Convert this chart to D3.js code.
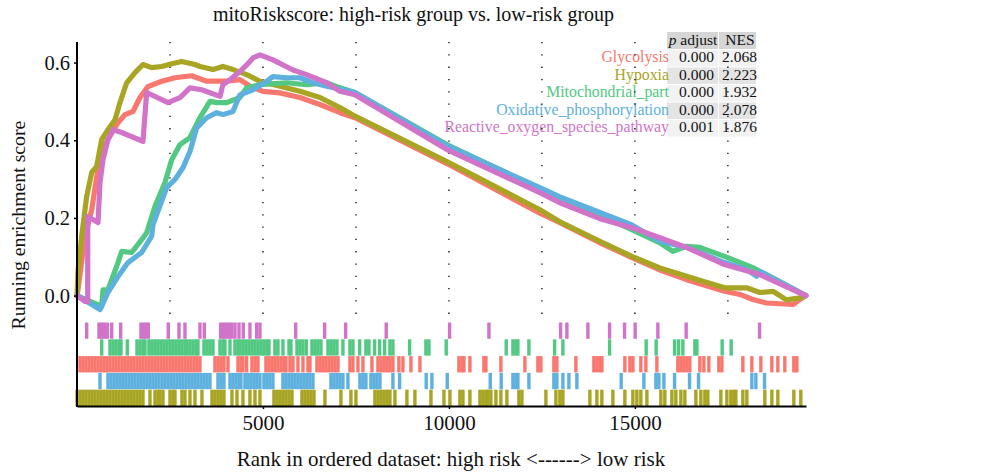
<!DOCTYPE html>
<html>
<head>
<meta charset="utf-8">
<script src="https://cdn.jsdelivr.net/npm/d3@7"></script>
<style>
  html, body { margin: 0; padding: 0; background: #ffffff; }
  svg { display: block; font-family: "Liberation Serif", "Times New Roman", serif; }
</style>
</head>
<body>
<svg id="chart" width="996" height="473"></svg>
<script>
// ---------------- data ----------------
const categories = ["Glycolysis", "Hypoxia", "Mitochondrial_part", "Oxidative_phosphorylation", "Reactive_oxygen_species_pathway"];
const pAdjust = ["0.000", "0.000", "0.000", "0.000", "0.001"];
const nesValues = ["2.068", "2.223", "1.932", "2.078", "1.876"];
const rugOrder = ["Reactive_oxygen_species_pathway", "Mitochondrial_part", "Glycolysis", "Oxidative_phosphorylation", "Hypoxia"];
const yTicks = [0.0, 0.2, 0.4, 0.6];
const xTicks = [5000, 10000, 15000];
const gridTicks = [2500, 5000, 7500, 10000, 12500, 15000, 17500];
const rankMax = 19600;

// running enrichment score: [rank, ES]
const esGlycolysis = [[0,0],[27,0.015],[215,0.152],[395,0.221],[530,0.306],[664,0.376],[833,0.402],[1102,0.445],[1290,0.466],[1505,0.474],[1693,0.510],[1908,0.538],[2277,0.552],[2634,0.561],[3083,0.566],[3486,0.552],[4024,0.552],[4381,0.556],[4650,0.539],[5000,0.526],[5457,0.522],[5994,0.510],[6532,0.492],[7070,0.471],[7473,0.458],[9946,0.340],[12445,0.212],[12983,0.188],[14058,0.136],[14918,0.098],[15671,0.066],[16389,0.041],[17410,0.011],[17823,0.003],[18171,-0.010],[18539,-0.019],[19246,-0.023],[19434,-0.010],[19596,0]];
const esHypoxia = [[0,0],[27,0.062],[126,0.153],[261,0.256],[395,0.317],[530,0.333],[664,0.402],[833,0.427],[1021,0.453],[1156,0.497],[1336,0.548],[1559,0.574],[1774,0.595],[2008,0.587],[2277,0.590],[2546,0.597],[2814,0.603],[3172,0.595],[3306,0.590],[3656,0.582],[3924,0.590],[4193,0.582],[4562,0.569],[4919,0.552],[5457,0.539],[5994,0.526],[6532,0.510],[7070,0.484],[7473,0.462],[9946,0.345],[12445,0.221],[12983,0.190],[14058,0.140],[14918,0.101],[15671,0.071],[16389,0.050],[16827,0.037],[17410,0.020],[18001,0.020],[18359,0.008],[18709,0.011],[19077,-0.011],[19434,-0.006],[19596,0]];
const esMitochondrial = [[0,0],[664,-0.028],[699,0.015],[833,0.015],[1102,0.085],[1202,0.114],[1470,0.111],[1739,0.144],[1873,0.162],[2097,0.230],[2365,0.291],[2546,0.350],[2769,0.389],[3037,0.407],[3306,0.458],[3575,0.500],[3755,0.497],[4024,0.497],[4381,0.510],[4562,0.535],[4919,0.543],[5637,0.548],[6174,0.543],[6712,0.548],[7070,0.535],[7473,0.523],[9946,0.389],[12445,0.275],[12983,0.252],[14918,0.170],[15671,0.136],[16020,0.114],[16389,0.127],[16746,0.124],[17410,0.101],[18171,0.072],[18539,0.054],[19596,0]];
const esOxidative = [[0,0],[618,-0.036],[833,0.008],[1102,0.049],[1371,0.085],[1739,0.111],[2008,0.153],[2043,0.183],[2411,0.278],[2634,0.299],[2849,0.329],[3037,0.371],[3218,0.432],[3486,0.458],[3755,0.471],[3924,0.466],[4193,0.474],[4381,0.517],[4731,0.530],[5099,0.552],[5268,0.564],[5637,0.561],[5994,0.561],[6344,0.548],[6712,0.539],[7473,0.523],[9946,0.386],[12445,0.278],[12983,0.254],[14058,0.214],[14918,0.182],[15671,0.140],[16389,0.124],[17410,0.085],[18001,0.067],[18270,0.050],[18359,0.062],[19596,0]];
const esReactive = [[0,0],[215,-0.015],[288,-0.015],[289,0.204],[565,0.188],[618,0.291],[699,0.350],[833,0.402],[968,0.427],[1202,0.420],[1774,0.397],[1873,0.523],[2446,0.497],[2769,0.510],[3037,0.535],[3352,0.530],[3844,0.513],[3924,0.543],[4113,0.556],[4381,0.577],[4562,0.594],[4731,0.612],[4919,0.620],[5268,0.607],[5806,0.581],[6174,0.569],[6712,0.548],[7070,0.526],[7473,0.517],[9946,0.376],[12445,0.265],[12983,0.239],[14058,0.198],[14918,0.175],[15671,0.149],[16389,0.124],[17410,0.080],[18359,0.054],[19596,0]];

// gene hit positions (ranks)
const hitsGlycolysis = [81,161,242,323,403,484,564,645,726,806,887,968,1048,1129,1210,1290,1371,1452,1532,1613,1693,1774,1855,1935,2016,2097,2177,2258,2339,2419,2500,2580,2661,2742,2822,2903,2984,3064,3145,3226,3306,3709,3790,3871,3951,4059,4328,4408,4462,4561,4704,4785,4865,5080,5161,5242,5322,5403,5484,5564,5618,5725,5806,5940,6075,6209,6263,6451,6532,6612,6693,6774,6854,6935,7016,7338,7419,7553,7688,7930,8091,8172,8252,8333,8413,8494,8655,8763,8978,9220,10268,10349,10403,10564,10940,10994,11397,12042,12392,12472,12822,12902,13413,13897,13978,14058,14112,14730,14865,14945,15160,15295,15590,16155,16236,16316,16397,16477,16746,16854,16988,17257,17338,17902,18144,18386,18682,18843,19031,19273,19354];
const hitsHypoxia = [1,81,161,242,323,403,484,564,645,726,806,887,968,1048,1129,1210,1290,1371,1452,1532,1613,1693,1774,1962,2097,2177,2231,2312,2500,2580,2634,2822,2903,3037,3172,3360,3629,3709,3790,3871,3951,4166,4301,4462,4650,4785,4919,5295,5376,5457,5537,5618,5699,5779,6048,6129,6209,6290,6371,6666,7096,7365,7500,8010,8091,8172,8252,8333,8413,8548,8870,9085,9516,9865,10026,10295,10376,10564,10833,10913,10994,11048,11128,11263,11397,11558,11881,11962,12607,12876,12983,13064,13789,13978,14112,14408,14730,14945,15053,15160,15322,15698,15805,15994,16101,16236,16343,16639,16773,16881,16961,17311,17472,17580,17660,17714,17902,18010,18493,18682,18843,19273,19461];
const hitsMitochondrial = [664,887,968,1048,1129,1183,1352,1613,1693,1774,1828,1935,2016,2097,2177,2258,2339,2419,2500,2580,2661,2742,2822,2903,2957,3037,3118,3199,3252,3414,3494,3575,3656,3844,3924,3978,4113,4247,4328,4381,4462,4543,4623,4704,4785,4865,4946,5027,5107,5161,5322,5403,5537,5699,5752,5914,5994,6075,6164,6317,6397,6478,6559,6747,6828,6908,6989,7150,7338,7419,7599,7768,7849,8002,8137,8271,8413,8494,8943,9381,9462,9927,11540,11720,11800,11854,12150,12841,13064,14319,15303,15572,16066,16174,16289,16612,16666,17346,17588];
const hitsOxidative = [618,833,914,995,1075,1156,1236,1317,1398,1478,1559,1640,1720,1801,1882,1962,2043,2124,2204,2285,2365,2446,2527,2607,2688,2769,2849,2930,3011,3091,3172,3252,3333,3414,3494,3575,3790,3871,3951,4113,4193,4274,4355,4408,4516,4596,4677,4758,4838,4919,5027,5107,5188,5268,5537,5618,5699,5779,5860,5940,6021,6102,6182,6263,6344,6828,6908,6989,7069,7150,7284,7607,7688,7768,7903,7983,8064,8145,8494,8674,9389,9542,9954,11110,11405,11720,11800,11854,12150,12822,12902,13064,13225,13440,14631,15241,15564,15644,15779,16066,16469,16711,18144,18252,18485];
const hitsReactive = [261,591,664,734,814,933,1175,1720,1782,1847,1917,2454,2742,2903,3306,3422,3863,3943,4024,4094,4158,4247,4355,4470,4650,4830,4919,5879,6658,7223,8314,10018,11075,13002,13171,13736,14319,14722,15007,15617,16378,18351];

// ---------------- styles ----------------
const colorOf = {
  "Glycolysis": "#F8786F",
  "Hypoxia": "#A8A424",
  "Mitochondrial_part": "#52C882",
  "Oxidative_phosphorylation": "#5EB0DE",
  "Reactive_oxygen_species_pathway": "#D174C9"
};
const esOf = {
  "Glycolysis": esGlycolysis, "Hypoxia": esHypoxia, "Mitochondrial_part": esMitochondrial,
  "Oxidative_phosphorylation": esOxidative, "Reactive_oxygen_species_pathway": esReactive
};
const hitsOf = {
  "Glycolysis": hitsGlycolysis, "Hypoxia": hitsHypoxia, "Mitochondrial_part": hitsMitochondrial,
  "Oxidative_phosphorylation": hitsOxidative, "Reactive_oxygen_species_pathway": hitsReactive
};

const svg = d3.select("#chart");
svg.append("rect").attr("width", 996).attr("height", 473).attr("fill", "#ffffff");

const x = d3.scaleLinear().domain([0, rankMax]).range([77, 806]);
const y = d3.scaleLinear().domain([-0.068, 0.653]).range([322, 42]);
const rugY = d3.scaleBand().domain(rugOrder).range([322, 406]);

// ---------- table ----------
const tbl = svg.append("g");
const rowH = 17.5, headTop = 32;
const colL = [667, 719], colR = [718, 756];
tbl.append("rect").attr("x", colL[0]).attr("y", headTop).attr("width", colR[0]-colL[0]).attr("height", 17).attr("fill", "#D6D6D6");
tbl.append("rect").attr("x", colL[1]).attr("y", headTop).attr("width", colR[1]-colL[1]).attr("height", 17).attr("fill", "#D6D6D6");
const hdr = tbl.append("text").attr("x", 693).attr("y", 44.5).attr("text-anchor", "middle").attr("font-size", 15.5).attr("fill", "#111");
hdr.append("tspan").attr("font-style", "italic").text("p");
hdr.append("tspan").text(" adjust");
tbl.append("text").attr("x", 740).attr("y", 44.5).attr("text-anchor", "middle").attr("font-size", 15.5).attr("fill", "#111").text("NES");
categories.forEach((c, i) => {
  const top = 50 + i * rowH;
  const fill = i % 2 === 0 ? "#F2F2F2" : "#E4E4E4";
  tbl.append("rect").attr("x", colL[0]).attr("y", top).attr("width", colR[0]-colL[0]).attr("height", rowH - 1).attr("fill", fill);
  tbl.append("rect").attr("x", colL[1]).attr("y", top).attr("width", colR[1]-colL[1]).attr("height", rowH - 1).attr("fill", fill);
  const base = top + 12;
  tbl.append("text").attr("x", 669).attr("y", base).attr("text-anchor", "end").attr("font-size", 15.8)
    .attr("fill", colorOf[c]).text(c);
  tbl.append("text").attr("x", 696.5).attr("y", base).attr("text-anchor", "middle").attr("font-size", 15.5)
    .attr("fill", "#111").text(pAdjust[i]);
  tbl.append("text").attr("x", 739.5).attr("y", base).attr("text-anchor", "middle").attr("font-size", 15.5)
    .attr("fill", "#111").text(nesValues[i]);
});

// ---------- dotted grid ----------
svg.append("g").selectAll("line").data(gridTicks).join("line")
  .attr("x1", d => x(d)).attr("x2", d => x(d))
  .attr("y1", y.range()[1]).attr("y2", y.range()[0])
  .attr("stroke", "#000").attr("stroke-width", 1.3).attr("stroke-dasharray", "1.3,11");

// ---------- curves ----------
const line = d3.line().x(d => x(d[0])).y(d => y(d[1]));
svg.append("g").selectAll("path").data(categories).join("path")
  .attr("d", c => line(esOf[c]))
  .attr("fill", "none").attr("stroke", c => colorOf[c])
  .attr("stroke-width", 5.2).attr("stroke-linejoin", "round").attr("stroke-linecap", "round");

// ---------- rug ----------
const rug = svg.append("g");
rugOrder.forEach(c => {
  rug.append("g").selectAll("rect").data(hitsOf[c]).join("rect")
    .attr("x", d => x(d) - 1.7).attr("width", 3.4)
    .attr("y", rugY(c) + 0.5).attr("height", rugY.bandwidth() - 0.5)
    .attr("fill", colorOf[c]);
});

// ---------- axes ----------
const yAxis = svg.append("g").attr("transform", "translate(77,0)")
  .call(d3.axisLeft(y).tickValues(yTicks).tickFormat(d3.format(".1f")).tickSize(3).tickPadding(4));
yAxis.select(".domain").remove();
yAxis.selectAll("text").attr("font-size", 20.5).attr("font-family", "Liberation Serif").attr("fill", "#111");
yAxis.selectAll("line").attr("stroke-width", 1.5);
svg.append("line").attr("x1", 77).attr("x2", 77).attr("y1", y.range()[1]).attr("y2", rugY.range()[1] + 1)
  .attr("stroke", "#000").attr("stroke-width", 2);

const xAxis = svg.append("g").attr("transform", "translate(0,406)")
  .call(d3.axisBottom(x).tickValues(xTicks).tickFormat(d3.format("d")).tickSize(3).tickSizeOuter(0).tickPadding(6));
xAxis.select(".domain").attr("stroke-width", 2);
xAxis.selectAll("text").attr("font-size", 21).attr("font-family", "Liberation Serif").attr("fill", "#111");
xAxis.selectAll("line").attr("stroke-width", 1.5);

// ---------- titles ----------
svg.append("text").attr("x", 413.5).attr("y", 21).attr("text-anchor", "middle")
  .attr("font-size", 20).attr("fill", "#111").text("mitoRiskscore: high-risk group vs. low-risk group");
svg.append("text").attr("x", 451).attr("y", 466).attr("text-anchor", "middle")
  .attr("font-size", 21).attr("fill", "#111").text("Rank in ordered dataset: high risk <------> low risk");
svg.append("text").attr("transform", "translate(25,225) rotate(-90)").attr("text-anchor", "middle")
  .attr("font-size", 19.8).attr("fill", "#111").text("Running enrichment score");
</script>
</body>
</html>
